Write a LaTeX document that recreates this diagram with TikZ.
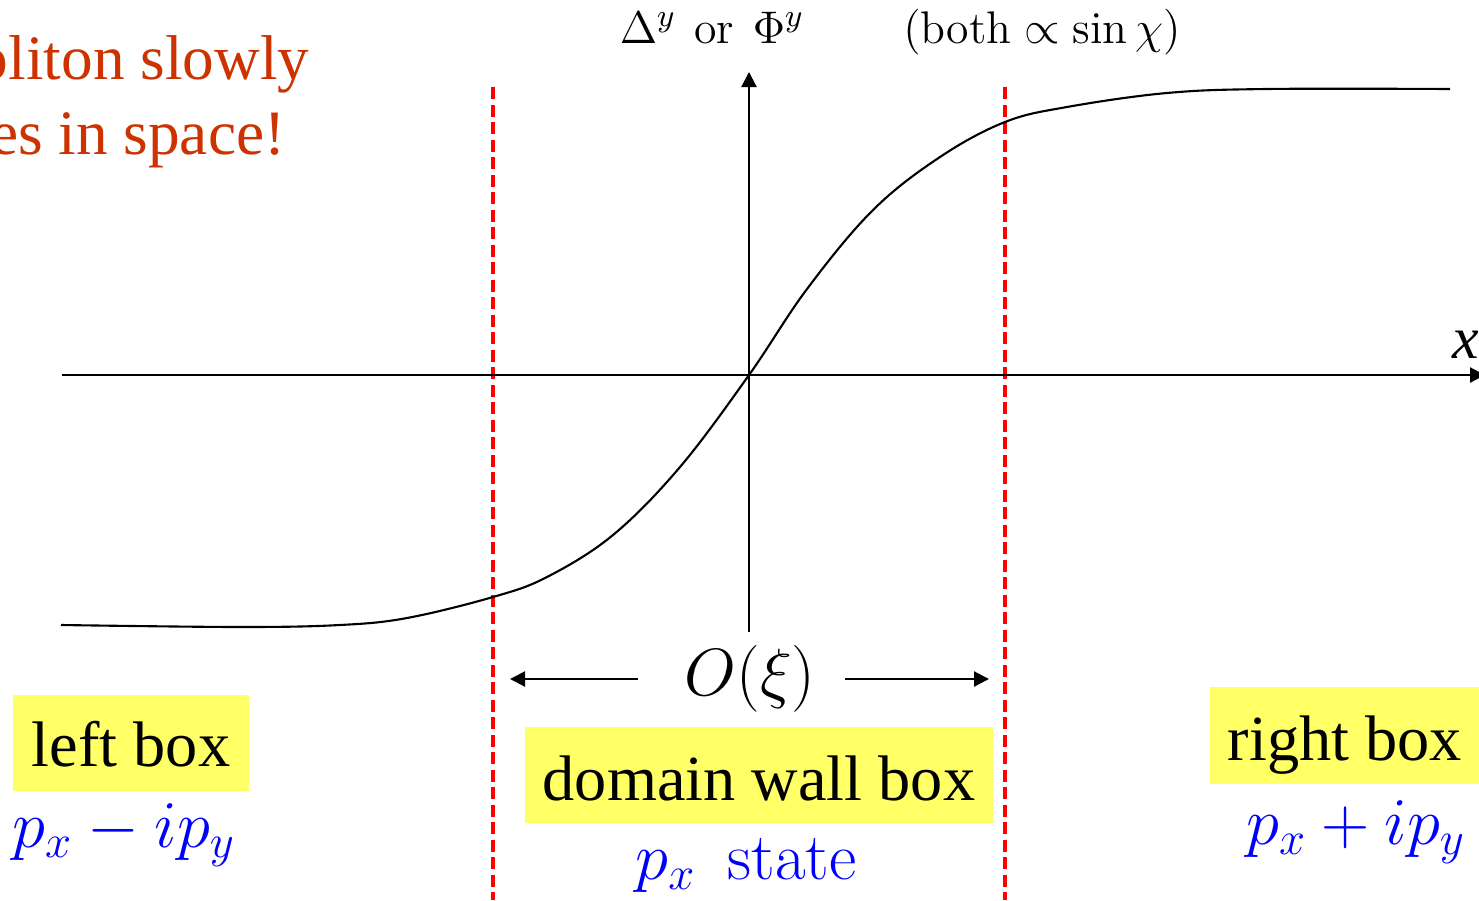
\documentclass[tikz,border=0pt]{standalone}
\usepackage{fix-cm}
\usepackage{fontspec}
\newfontfamily\tms{Liberation Serif}
\usetikzlibrary{arrows.meta}
\definecolor{soliton}{RGB}{204,51,0}
\definecolor{boxyellow}{RGB}{255,255,102}
\definecolor{stateblue}{RGB}{0,0,255}
\definecolor{wallred}{RGB}{255,0,0}
\tikzset{
  ybox/.style={fill=boxyellow, draw=none, inner sep=0pt},
  boxtext/.style={font=\tms\fontsize{18.3}{22}\selectfont, inner sep=0pt},
  soltext/.style={font=\tms\fontsize{18}{22}\selectfont, text=soliton, inner sep=0pt},
  mathlab/.style={font=\fontsize{19}{23}\selectfont, inner sep=0pt},
  statelab/.style={mathlab, text=stateblue},
  toplab/.style={font=\fontsize{13}{16}\selectfont, inner sep=0pt},
  axisline/.style={line width=0.6pt, -{Triangle[length=0.15cm,width=0.15cm]}},
  sizearrow/.style={line width=0.6pt, -{Triangle[length=0.15cm,width=0.15cm]}},
  wall/.style={wallred, line width=0.9pt, dash pattern=on 0.12cm off 0.055cm},
  curveline/.style={line width=0.6pt},
}
\begin{document}
\begin{tikzpicture}[x=0.01cm,y=-0.01cm]
\useasboundingbox (0,0) rectangle (1479,900);

% yellow boxes
\node[ybox, minimum width=2.36cm, minimum height=0.96cm] (lbox) at (131,743) {};
\node[ybox, minimum width=4.68cm, minimum height=0.96cm] (dbox) at (759,775) {};
\node[ybox, minimum width=2.75cm, minimum height=0.97cm] (rbox) at (1347.5,735.5) {};
\node[boxtext, anchor=base] (lboxt) at (131,766) {left box};
\node[boxtext, anchor=base] (dboxt) at (759,800) {domain wall box};
\node[boxtext, anchor=base] (rboxt) at (1345,760) {right box};

% red dashed walls
\coordinate (w1t) at (493,87);
\coordinate (w1b) at (493,900);
\coordinate (w2t) at (1005,87);
\coordinate (w2b) at (1005,900);
\draw[wall] (w1t) -- (w1b);
\draw[wall] (w2t) -- (w2b);

% axes
\coordinate (xl) at (62,375);
\coordinate (xr) at (1485,375);
\coordinate (yb) at (749,632);
\coordinate (yt) at (749,72);
\draw[axisline] (xl) -- (xr);
\draw[axisline] (yb) -- (yt);

% soliton curve
\draw[curveline] plot[smooth, tension=0.6] coordinates {
 (61,625) (240,627) (340,625) (407,618) (493,597) (547,577) (613,535)
 (680,467) (749,375) (807,289) (873,210) (940,157)
 (1005,122) (1067,107) (1167,93) (1267,89) (1450,89)};

% labels
\node[toplab, anchor=base] (ylab) at (712,43) {$\Delta^y$\ \kern1pt or\ \kern1pt$\Phi^y$};
\node[toplab, anchor=base] (both) at (1042,43) {$(\mbox{both}\propto\sin\chi)$};
\node[font=\tms\itshape\fontsize{17}{20}\selectfont, anchor=base, inner sep=0pt] (xlab) at (1466,358) {x};

\node[soltext, anchor=base east] (sol1) at (310,79) {A soliton slowly};
\node[soltext, anchor=base east] (sol2) at (286,154) {varies in space!};

% O(xi) with arrows
\node[mathlab, anchor=base] (oxi) at (750,695) {$O(\xi)$};
\coordinate (al) at (638,679);
\coordinate (alt) at (510,679);
\coordinate (ar) at (845,679);
\coordinate (art) at (989,679);
\draw[sizearrow] (al) -- (alt);
\draw[sizearrow] (ar) -- (art);

% states
\node[statelab, anchor=base] (lstate) at (124,847) {$p_x - ip_y$};
\node[statelab, anchor=base] (mstate) at (746,879) {$p_x$\ \,state};
\node[statelab, anchor=base] (rstate) at (1356,844) {$p_x + ip_y$};
\end{tikzpicture}
\end{document}
